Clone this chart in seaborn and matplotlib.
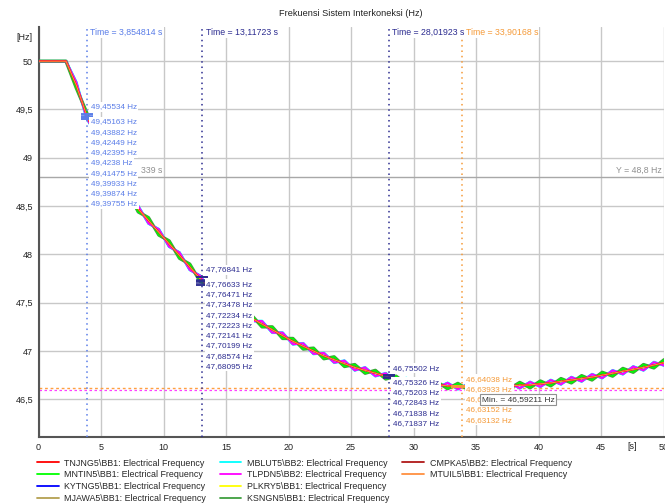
import matplotlib
matplotlib.use("Agg")
import matplotlib.pyplot as plt
import matplotlib.transforms as mtransforms
from matplotlib.ticker import MultipleLocator, FuncFormatter
from matplotlib.lines import Line2D
import pandas as pd
import seaborn as sns

# time knots [s] (about half an oscillation apart)
t_knots = [0.0, 2.2, 3.03, 3.85, 4.68, 5.5, 6.33, 7.15, 7.98, 8.8, 9.63,
           10.45, 11.28, 12.1, 12.93, 13.75, 14.58, 15.4, 16.23, 17.05, 17.88,
           18.7, 19.53, 20.35, 21.18, 22.0, 22.83, 23.65, 24.48, 25.3, 26.13,
           26.95, 27.78, 28.6, 29.43, 30.25, 31.08, 31.9, 32.73, 33.55, 34.38,
           35.2, 36.03, 36.85, 37.68, 38.5, 39.33, 40.15, 40.98, 41.8, 42.63,
           43.45, 44.28, 45.1, 45.93, 46.75, 47.58, 48.4, 49.23, 50.05]

# mean frequency (red / dark red / orange buses)
f_mean = [50.0, 50.0, 49.75, 49.44, 49.2, 48.98, 48.79, 48.62, 48.47, 48.35, 48.23,
          48.11, 47.99, 47.87, 47.75, 47.65, 47.56, 47.48, 47.41, 47.34, 47.28,
          47.22, 47.16, 47.1, 47.05, 47.0, 46.95, 46.91, 46.87, 46.83, 46.8,
          46.77, 46.74, 46.71, 46.69, 46.67, 46.66, 46.65, 46.64, 46.635, 46.63,
          46.63, 46.63, 46.635, 46.64, 46.645, 46.65, 46.66, 46.67, 46.685, 46.7,
          46.715, 46.73, 46.75, 46.77, 46.79, 46.81, 46.83, 46.855, 46.88]

# green group (swings one way)
f_green = [50.0, 50.0, 49.72, 49.47, 49.17, 49.01, 48.76, 48.65, 48.44, 48.38, 48.2,
           48.14, 47.96, 47.9, 47.72, 47.68, 47.53, 47.51, 47.38, 47.37, 47.25,
           47.25, 47.13, 47.13, 47.02, 47.03, 46.92, 46.94, 46.84, 46.86, 46.77,
           46.8, 46.71, 46.74, 46.66, 46.7, 46.63, 46.68, 46.61, 46.665, 46.6,
           46.66, 46.6, 46.665, 46.61, 46.675, 46.62, 46.69, 46.64, 46.715, 46.67,
           46.745, 46.7, 46.78, 46.74, 46.82, 46.78, 46.86, 46.825, 46.91]

# magenta group (swings the other way)
f_magenta = [50.0, 50.0, 49.78, 49.41, 49.23, 48.95, 48.82, 48.59, 48.5, 48.32, 48.26,
             48.08, 48.02, 47.84, 47.78, 47.62, 47.59, 47.45, 47.44, 47.31, 47.31,
             47.19, 47.19, 47.07, 47.08, 46.97, 46.98, 46.88, 46.9, 46.8, 46.83,
             46.74, 46.77, 46.68, 46.72, 46.64, 46.69, 46.62, 46.67, 46.605, 46.66,
             46.592, 46.66, 46.605, 46.67, 46.615, 46.68, 46.63, 46.7, 46.655, 46.73,
             46.685, 46.76, 46.72, 46.8, 46.76, 46.84, 46.8, 46.885, 46.85]

series_names = ["TNJNG5\\BB1", "MNTIN5\\BB1", "KYTNG5\\BB1", "MJAWA5\\BB1",
                "MBLUT5\\BB2", "TLPDN5\\BB2", "PLKRY5\\BB1", "KSNGN5\\BB1",
                "CMPKA5\\BB2", "MTUIL5\\BB1"]
series_colors = ["#ff0000", "#00ff00", "#0000ff", "#b4a050",
                 "#00ffff", "#ff00ff", "#ffff00", "#3f9f3f",
                 "#b01818", "#ff9040"]
series_group = ["mean", "green", "magenta", "green",
                "magenta", "magenta", "green", "green",
                "mean", "mean"]

cursor_times = [3.854814, 13.11723, 28.01923, 33.90168]
cursor_colors = ["#5a7de8", "#2c2c90", "#2c2c90", "#f59a38"]
cursor1_vals = [49.45534, 49.45163, 49.43882, 49.42449, 49.42395, 49.4238,
                49.41475, 49.39933, 49.39874, 49.39755]
cursor2_vals = [47.76841, 47.76633, 47.76471, 47.73478, 47.72234, 47.72223,
                47.72141, 47.70199, 47.68574, 47.68095]
cursor3_vals = [46.75502, 46.75326, 46.75203, 46.72843, 46.71838, 46.71837]
cursor4_vals = [46.64038, 46.63933, 46.63377, 46.63152, 46.63132]
cursor_vals = [cursor1_vals, cursor2_vals, cursor3_vals, cursor4_vals]

y_line = 48.8
min_time = 35.2
min_val = 46.59211
orange_level = 46.615

data = {"mean": f_mean, "green": f_green, "magenta": f_magenta}

# layout in pixels (figure 665x504 @ 100 dpi)
W, H = 665, 504
AX_L, AX_R, AX_T, AX_B = 38.5, 663.5, 26.7, 437.3

sns.set_style("white")
plt.rcParams["font.family"] = ["Liberation Sans", "DejaVu Sans"]

fig = plt.figure(figsize=(W / 100, H / 100), dpi=100)
ax = fig.add_axes([AX_L / W, 1 - AX_B / H, (AX_R - AX_L) / W, (AX_B - AX_T) / H])
ax.set_xlim(0, 50)
ax.set_ylim(46.107, 50.357)


def ay(px):
    return (AX_B - px) / (AX_B - AX_T)


def fmt_hz(v):
    return ("%.5f" % v).rstrip("0").replace(".", ",") + " Hz"


# curves: draw order and widths
draw_order = [6, 3, 2, 4, 7, 1, 5, 8, 0, 9]
widths = {0: 1.1, 1: 1.1, 2: 1.4, 3: 1.4, 4: 2.0, 5: 1.5, 6: 1.4, 7: 2.4, 8: 0.9, 9: 0.8}
for z, i in enumerate(draw_order):
    df = pd.DataFrame({"t": t_knots, "f": data[series_group[i]]})
    sns.lineplot(data=df, x="t", y="f", ax=ax, color=series_colors[i],
                 linewidth=widths[i], estimator=None, sort=False, legend=False,
                 zorder=3 + z * 0.01)

# grid / axes styling
ax.xaxis.set_major_locator(MultipleLocator(5))
ax.xaxis.set_minor_locator(MultipleLocator(2.5))
ax.yaxis.set_major_locator(MultipleLocator(0.5))
ax.yaxis.set_minor_locator(MultipleLocator(0.125))
ax.yaxis.set_major_formatter(FuncFormatter(lambda v, p: ("%g" % v).replace(".", ",")))
ax.grid(True, which="major", color="#c8c8c8", linewidth=1.0, zorder=0)
ax.tick_params(which="both", direction="in", length=2.5, color="#707070",
               labelsize=6.5, labelcolor="#222222", pad=4)
for s in ["top", "right"]:
    ax.spines[s].set_visible(False)
for s in ["left", "bottom"]:
    ax.spines[s].set_color("#555555")
    ax.spines[s].set_linewidth(1.5)
ax.set_xlabel("")
ax.set_ylabel("")

bt = mtransforms.blended_transform_factory(ax.transData, ax.transAxes)
ax.text(-0.5, ay(37), "[Hz]", transform=bt, ha="right", va="center",
        fontsize=6.5, color="#222222")
ax.text(47.5, ay(AX_B + 9.5), "[s]", transform=bt, ha="center", va="center",
        fontsize=6.5, color="#222222")

# Y = 48,8 reference line
ax.axhline(y_line, color="#a8a8a8", linewidth=1.0, zorder=1)
ax.text(49.9, y_line + 0.02, "Y = 48,8 Hz", ha="right", va="bottom",
        fontsize=6.3, color="#909090", zorder=6)
ax.text(8.2, y_line + 0.02, "339 s", ha="left", va="bottom",
        fontsize=6.3, color="#909090", zorder=6,
        bbox=dict(facecolor="white", edgecolor="none", pad=0.5))

# horizontal dashed levels
ax.axhline(min_val, color="#ff40ff", linewidth=0.9, linestyle=(0, (2, 2)), zorder=2)
ax.axhline(orange_level, color="#ffa040", linewidth=1.0, linestyle=(0, (2, 2)), zorder=2.1)

# cursors
label_y0 = [106.7, 270.0, 368.3, 379.3]
label_gap = [15.3, 14.3, 14.0, 10.2]
step = 10.25
for k, tc in enumerate(cursor_times):
    c = cursor_colors[k]
    ax.axvline(tc, color=c, linewidth=1.1, linestyle=(0, (1, 2.5)), zorder=4)
    ax.text(tc + 0.3, ay(32.7), "Time = %s s" % str(tc).replace(".", ","),
            transform=bt, ha="left", va="center", fontsize=6.3, color=c, zorder=7,
            bbox=dict(facecolor="white", edgecolor="none", pad=0.6))
    ax.plot([tc] * len(cursor_vals[k]), cursor_vals[k], linestyle="none",
            marker="_", markersize=8 if k < 3 else 16, markeredgewidth=1.1,
            color=c, zorder=6)
    for j, v in enumerate(cursor_vals[k]):
        ypx = label_y0[k] if j == 0 else label_y0[k] + label_gap[k] + (j - 1) * step
        ax.text(tc + 0.32, ay(ypx), fmt_hz(v), transform=bt, ha="left",
                va="center", fontsize=5.9, color=c, zorder=7,
                bbox=dict(facecolor="white", edgecolor="none", pad=1.2))

# minimum marker box
ax.text(min_time + 0.25, ay(399.3), "Min. = " + fmt_hz(min_val), transform=bt,
        ha="left", va="center", fontsize=6.0, color="#333333", zorder=8,
        bbox=dict(facecolor="white", edgecolor="#909090", linewidth=0.8, pad=1.5))

# title
fig.text((AX_L + AX_R) / 2 / W, 1 - 13.5 / H, "Frekuensi Sistem Interkoneksi (Hz)",
         ha="center", va="center", fontsize=6.6, color="#222222")

# legend (3 columns, 4/4/2 entries)
handles = [Line2D([], [], color=series_colors[i], linewidth=1.3) for i in range(10)]
labels = [series_names[i] + ": Electrical Frequency" for i in range(10)]
handles += [Line2D([], [], color="none")] * 2
labels += ["", ""]
fig.legend(handles, labels, loc="upper left", bbox_to_anchor=(37.3 / W, 1 - 458.5 / H),
           ncol=3, frameon=False, fontsize=6.4, handlelength=2.45,
           handletextpad=0.6, columnspacing=1.5, labelspacing=0.32, borderpad=0,
           borderaxespad=0)

fig.savefig("out.png", dpi=100)
